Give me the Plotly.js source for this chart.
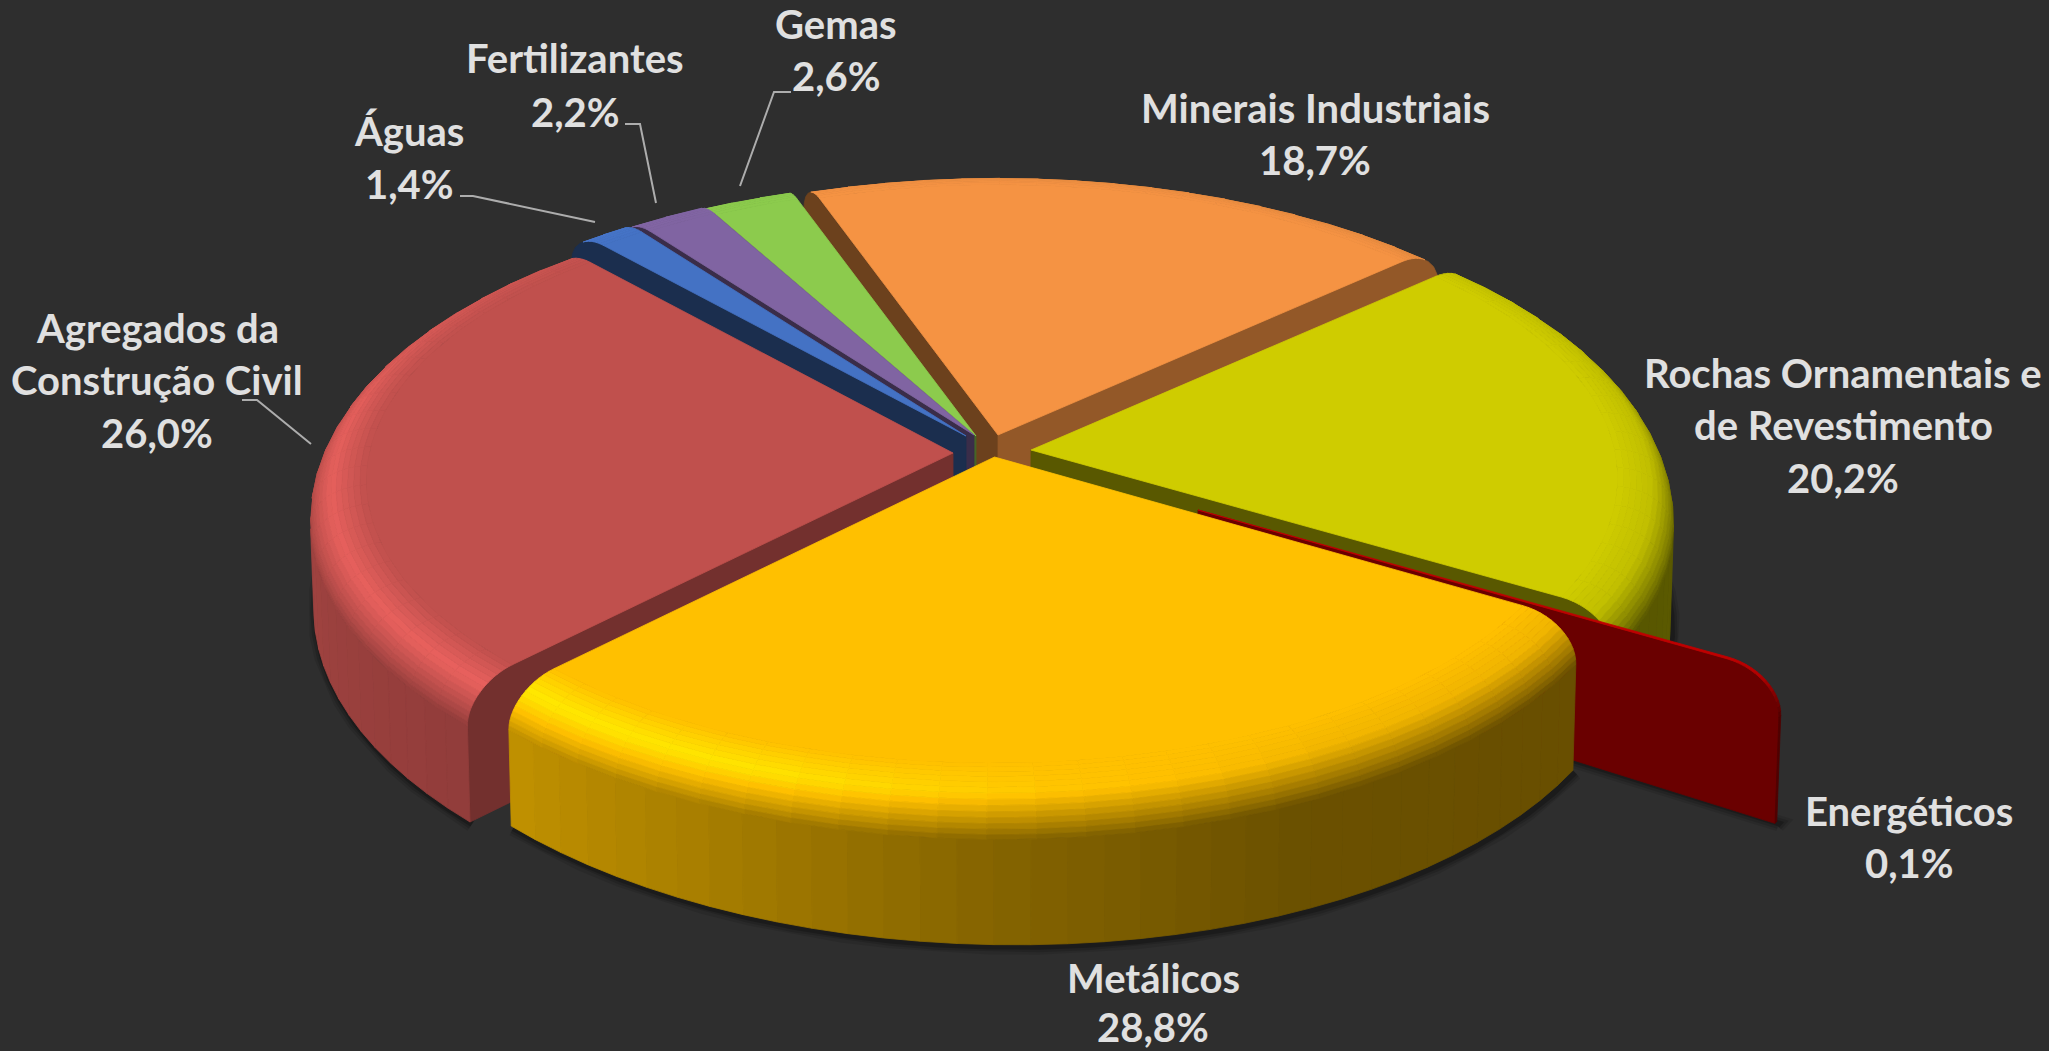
<!DOCTYPE html>
<html><head><meta charset="utf-8">
<script src="https://cdn.plot.ly/plotly-3.0.1.min.js"></script>
<style>html,body{margin:0;padding:0;background:#2e2e2e;overflow:hidden}#chart{width:2049px;height:1051px}</style>
</head><body><div id="chart"></div>
<script>
// ---------- data (clockwise from the back of the pie) ----------
const categories = ['Minerais Industriais','Rochas Ornamentais e de Revestimento','Energéticos','Metálicos','Agregados da Construção Civil','Águas','Fertilizantes','Gemas'];
const values = [18.7,20.2,0.1,28.8,26.0,1.4,2.2,2.6];
const labelLines = [['Minerais Industriais'],['Rochas Ornamentais e','de Revestimento'],['Energéticos'],['Metálicos'],['Agregados da','Construção Civil'],['Águas'],['Fertilizantes'],['Gemas']];
const colors = ['#F59343','#CFCC00','#C00000','#FFC000','#C0504D','#4472C4','#8064A2','#8CCB4D'];

// ---------- style / projection ----------
const startAngle = -19.6;
const centre = [985,444], A = 640, B = 302, H = 132, persp = 0.11;
const explodeX = [13,46,213,9.5,-32,-19,-11,-9];
const explodeY = [-9,6,66,13,9,-8,-9,-8];
const faceStart = [.44,.5,.55,.5,.6,.4,.45,.5];
const faceEnd = [.6,.43,.55,.5,.5,.5,.5,.5];
const drawOrder = [0,7,6,5,1,2,4,3];
const filletR = 0.088, filletZ = 0.29;
const labelX = [1315,1843,1909,1153,157,409,575,836];
const labelY = [[108,160],[373,425,478],[811,863],[978,1027],[328,380,433],[131,184],[58,112],[24,76]];
const leaders = [[[460,196],[473,196],[595,222]],[[625,124],[640,124],[656,203]],[[791,92],[774,92],[740,186]],[[242,400],[257,400],[311,444]]];
const wallTable = [[0,.6],[60,.5],[100,.44],[125,.41],[155,.42],[180,.52],[205,.66],[225,.76],[270,.85],[320,.8],[360,.6]];
const glossTable = [[0,0],[100,0],[150,.05],[175,.35],[200,.9],[225,1],[280,.9],[320,.4],[360,0]];

function lut(t,a){a=((a%360)+360)%360;for(let i=1;i<t.length;i++){if(a<=t[i][0]){const k=(a-t[i-1][0])/(t[i][0]-t[i-1][0]);return t[i-1][1]+k*(t[i][1]-t[i-1][1]);}}return t[t.length-1][1];}
function shade(hex,f){const n=parseInt(hex.slice(1),16);const c=[n>>16,(n>>8)&255,n&255].map(v=>Math.min(255,Math.round(v*f)));return `rgb(${c[0]},${c[1]},${c[2]})`;}
function proj(i,r,deg,z){const t=deg*Math.PI/180,u=r*Math.sin(t),v=r*Math.cos(t),w=1+persp*v;
  const x0=centre[0]+explodeX[i]+A*u/w;
  const y0=centre[1]+explodeY[i]-B*v/w+H*(1+0.08*u)*(1-z)/w;
  return [centre[0]+(x0-centre[0])*(1-0.007*(1-z)), y0];}
function prof(s){const ph=s*Math.PI/2;return [1-filletR+filletR*Math.sin(ph),1-filletZ*(1-Math.cos(ph))];}
function area(p){let a=0;for(let k=0;k<p.length;k++){const q=p[(k+1)%p.length];a+=p[k][0]*q[1]-q[0]*p[k][1];}return a;}
const traces=[];
function poly(p,color){const c=p.concat([p[0]]);traces.push({type:'scatter',mode:'lines',x:c.map(q=>q[0]),y:c.map(q=>q[1]),fill:'toself',fillcolor:color,line:{color:color,width:0.8},hoverinfo:'skip',showlegend:false});}
function steps(a,b,d){const n=Math.max(1,Math.ceil((b-a)/d)),o=[];for(let k=0;k<=n;k++)o.push(a+(b-a)*k/n);return o;}

// angular spans from the values
const total=values.reduce((s,v)=>s+v,0);
const spans=[];let acc=startAngle;
values.forEach(v=>{const e=acc+v/total*360;spans.push([acc,e]);acc=e;});

// soft shadow under the front rims
[[16,.10],[11,.14],[6,.22]].forEach(([wd,op])=>{
  drawOrder.forEach(i=>{
    const [a,b]=spans[i];const pts=steps(a,b,4).map(t=>proj(i,1,t,0));
    if(i===2){pts.unshift(proj(i,0.15,b,0));}
    traces.push({type:'scatter',mode:'lines',x:pts.map(q=>q[0]+2),y:pts.map(q=>q[1]+2),line:{color:`rgba(0,0,0,${op})`,width:wd},hoverinfo:'skip',showlegend:false});
  });
});

const bands=14;
drawOrder.forEach(i=>{
  const [a,b]=spans[i],col=colors[i];
  // cut faces
  [[a,faceStart[i],-1],[b,faceEnd[i],1]].forEach(([t,f,sign])=>{
    const p=[proj(i,0,t,1)];
    for(let k=0;k<=6;k++){const [r,z]=prof(k/6);p.push(proj(i,r,t,z));}
    p.push(proj(i,1,t,0));p.push(proj(i,0,t,0));
    if(area(p)*sign>0)poly(p,shade(col,f));
  });
  // outer wall
  const wa=steps(a,b,3);const zTop=prof(1)[1];
  for(let k=0;k<wa.length-1;k++){
    const t1=wa[k],t2=wa[k+1];
    const q=[proj(i,1,t1,zTop),proj(i,1,t2,zTop),proj(i,1,t2,0),proj(i,1,t1,0)];
    if(area(q)<0)poly(q,shade(col,lut(wallTable,(t1+t2)/2)));
  }
  // rounded shoulder
  const ba=steps(a,b,4);
  for(let s=bands-1;s>=0;s--){
    const s1=s/bands,s2=(s+1)/bands,sm=(s1+s2)/2,[r1,z1]=prof(s1),[r2,z2]=prof(s2);
    for(let k=0;k<ba.length-1;k++){
      const t1=ba[k],t2=ba[k+1],tm=(t1+t2)/2;
      const q=[proj(i,r1,t1,z1),proj(i,r1,t2,z1),proj(i,r2,t2,z2),proj(i,r2,t1,z2)];
      if(area(q)>=0)continue;
      const w=lut(wallTable,tm),m=0.93+0.29*lut(glossTable,tm);
      const f=sm<.42?1+(m-1)*(sm/.42):m+(w-m)*((sm-.42)/.58);
      poly(q,shade(col,f));
    }
  }
  // flat top
  const top=[proj(i,0,a,1)];
  steps(a,b,2).forEach(t=>top.push(proj(i,1-filletR,t,1)));
  poly(top,col);
});

// labels: one annotation per text line, built from the data
const annotations=[];
values.forEach((v,i)=>{
  const lines=labelLines[i].concat([v.toFixed(1).replace('.',',')+'%']);
  lines.forEach((txt,k)=>annotations.push({x:labelX[i],y:labelY[i][k],xref:'x',yref:'y',text:txt,showarrow:false,xanchor:'center',yanchor:'middle',
    font:{family:'Lato, sans-serif',size:40,color:'#e0e0e0',weight:700}}));
});
const shapes=leaders.map(l=>({type:'path',path:'M'+l.map(p=>p[0]+' '+p[1]).join(' L '),line:{color:'#adadad',width:2},xref:'x',yref:'y'}));

Plotly.newPlot('chart',traces,{
  width:2049,height:1051,margin:{l:0,r:0,t:0,b:0},paper_bgcolor:'#2e2e2e',plot_bgcolor:'#2e2e2e',showlegend:false,hovermode:false,
  xaxis:{range:[0,2049],visible:false,fixedrange:true},
  yaxis:{range:[1051,0],visible:false,fixedrange:true},
  annotations,shapes
},{displayModeBar:false,staticPlot:true});
</script></body></html>
